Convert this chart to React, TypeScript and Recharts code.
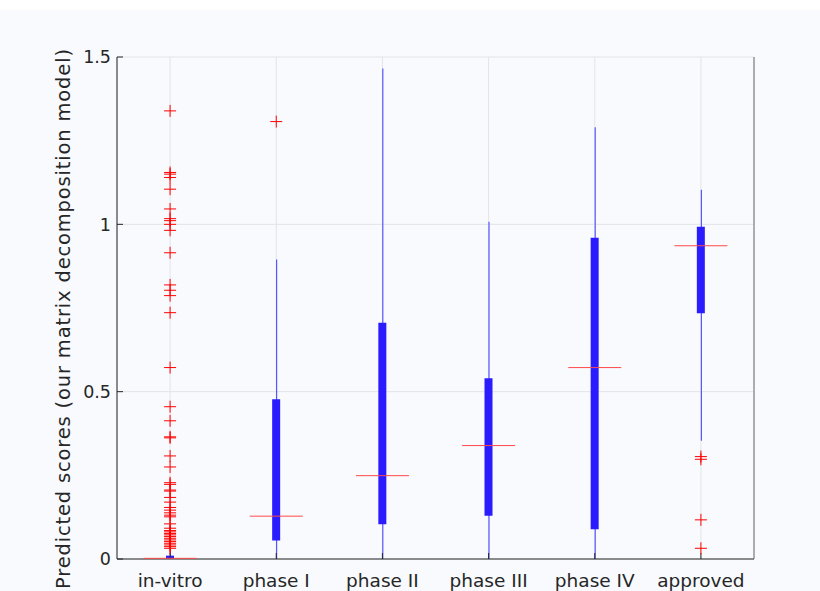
import React from 'react';
import { ComposedChart, Bar, Scatter, XAxis, YAxis, CartesianGrid } from 'recharts';

// box plot summary per stage
const categories = ['in-vitro', 'phase I', 'phase II', 'phase III', 'phase IV', 'approved'];
const whiskerLow = [0, 0, 0, 0, 0, 0.353];
const whiskerHigh = [0.025, 0.895, 1.466, 1.008, 1.29, 1.103];
const q1 = [0, 0.055, 0.104, 0.129, 0.089, 0.734];
const q3 = [0.01, 0.477, 0.706, 0.54, 0.96, 0.993];
const medians = [0.002, 0.128, 0.249, 0.339, 0.572, 0.936];
const outliers = [
  [
    1.339, 1.155, 1.15, 1.14, 1.105, 1.046, 1.017, 1.011, 1.0, 0.982, 0.915, 0.819, 0.803, 0.787,
    0.736, 0.572, 0.455, 0.413, 0.365, 0.362, 0.308, 0.275, 0.228, 0.223, 0.206, 0.203, 0.184,
    0.17, 0.154, 0.146, 0.138, 0.131, 0.126, 0.105, 0.092, 0.085, 0.081, 0.076, 0.072, 0.067,
    0.062, 0.057, 0.052, 0.047, 0.042, 0.037, 0.032,
  ],
  [1.307],
  [],
  [],
  [],
  [0.306, 0.298, 0.117, 0.032],
];
const yTicks = [0, 0.5, 1, 1.5];
const yLabel = 'Predicted scores (our matrix decomposition model)';

const maxOutliers = Math.max(...outliers.map((o) => o.length));
const outlierKeys = Array.from({ length: maxOutliers }, (_, k) => `o${k}`);

const rows = categories.map((name, i) => {
  const row: Record<string, any> = {
    name,
    whisker: [whiskerLow[i], whiskerHigh[i]],
    box: [q1[i], q3[i]],
    median: medians[i],
  };
  outliers[i].forEach((v, k) => {
    row[`o${k}`] = v;
  });
  return row;
});

const FONT = '"DejaVu Sans", sans-serif';
const AXIS = '#262626';

const plusShape = (key: string) => (props: any) => {
  const { cx, cy, payload } = props;
  if (!payload || payload[key] == null || !Number.isFinite(cx) || !Number.isFinite(cy)) return <g />;
  return (
    <g>
      <line x1={cx - 6} x2={cx + 6} y1={cy} y2={cy} stroke="#ff0000" strokeWidth={1} />
      <line x1={cx} x2={cx} y1={cy - 6} y2={cy + 6} stroke="#ff0000" strokeWidth={1} />
    </g>
  );
};

const MedianLine = (props: any) => {
  const { cx, cy } = props;
  if (!Number.isFinite(cx) || !Number.isFinite(cy)) return <g />;
  return <line x1={cx - 26.5} x2={cx + 26.5} y1={cy} y2={cy} stroke="#ff4a4a" strokeWidth={1} />;
};

export default function App() {
  return (
    <div style={{ position: 'absolute', left: 0, top: 0, width: 820, height: 591, background: '#ffffff' }}>
      <div style={{ position: 'absolute', left: 0, top: 10, width: 820, height: 581, background: '#f8fafd' }} />
      <div style={{ position: 'absolute', left: 0, top: 0 }}>
        <ComposedChart width={820} height={591} data={rows} margin={{ top: 57, right: 0, bottom: 0, left: 0 }}>
          <CartesianGrid stroke="#e2e4e8" xAxisId="main" />
          <XAxis
            xAxisId="main"
            dataKey="name"
            height={32}
            interval={0}
            tickSize={-6}
            tickMargin={21}
            axisLine={{ stroke: AXIS }}
            tickLine={{ stroke: AXIS }}
            tick={{ fill: AXIS, fontSize: 18.5, fontFamily: FONT }}
          />
          <XAxis xAxisId="box" dataKey="name" height={0} hide />
          <XAxis
            xAxisId="top"
            dataKey="name"
            orientation="top"
            height={0}
            tick={false}
            tickSize={-6}
            axisLine={{ stroke: AXIS }}
            tickLine={{ stroke: AXIS }}
          />
          <YAxis
            domain={[0, 1.5]}
            ticks={yTicks}
            allowDataOverflow
            width={117}
            tickSize={-6}
            tickMargin={12}
            axisLine={{ stroke: AXIS }}
            tickLine={{ stroke: AXIS }}
            tick={{ fill: AXIS, fontSize: 17.5, fontFamily: FONT }}
            label={{
              content: () => (
                <text
                  x={63}
                  y={319}
                  transform="rotate(-90 63 319)"
                  textAnchor="middle"
                  dominantBaseline="central"
                  fill={AXIS}
                  fontSize={19.5}
                  fontFamily={FONT}
                  textLength={540}
                  lengthAdjust="spacing"
                >
                  {yLabel}
                </text>
              ),
            }}
          />
          <YAxis
            yAxisId="right"
            orientation="right"
            domain={[0, 1.5]}
            ticks={yTicks}
            width={66}
            tick={false}
            tickSize={-6}
            axisLine={{ stroke: '#6b6b6b' }}
            tickLine={{ stroke: AXIS }}
          />
          <Bar xAxisId="main" dataKey="whisker" barSize={1} fill="#3a3aff" isAnimationActive={false} />
          <Bar xAxisId="box" dataKey="box" barSize={8} fill="#2a1cff" isAnimationActive={false} />
          <Scatter xAxisId="main" dataKey="median" shape={MedianLine} isAnimationActive={false} />
          {outlierKeys.map((k) => (
            <Scatter key={k} xAxisId="main" dataKey={k} shape={plusShape(k)} isAnimationActive={false} />
          ))}
        </ComposedChart>
      </div>
    </div>
  );
}
